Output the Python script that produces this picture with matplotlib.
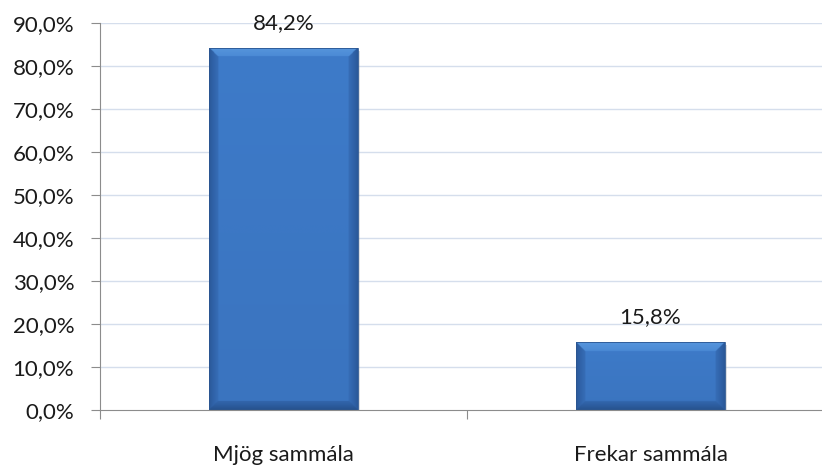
import numpy as np
import matplotlib
matplotlib.use('Agg')
import matplotlib.pyplot as plt
from matplotlib.colors import LinearSegmentedColormap
from matplotlib.patches import Rectangle

# data
categories = ['Mjög sammála', 'Frekar sammála']
values = [84.2, 15.8]
yticks = [0, 10, 20, 30, 40, 50, 60, 70, 80, 90]

plt.rcParams['font.family'] = ['Lato', 'DejaVu Sans']

fig = plt.figure(figsize=(8.22, 4.66), dpi=100)
ax = fig.add_axes([100/822, 1 - 410/466, 722/822, 387/466])

x = np.arange(len(categories))
bar_w = 0.405
xmax = -0.5 + 722/367

# gridlines
for t in yticks[1:]:
    ax.axhline(t, color='#D5DEEC', lw=1.0, zorder=0)

# bar shading: dark on the bevel, lighter in the face
cmap_b = LinearSegmentedColormap.from_list('bevel', ['#21497F', '#2E5FA3', '#3A73BE', '#3F7ECD', '#5C9BE0'])
bars = ax.bar(x, values, width=bar_w, color='none', edgecolor='none', zorder=3)
for rect, v in zip(bars, values):
    x0 = rect.get_x()
    w = rect.get_width()
    # soft shadow
    ax.add_patch(Rectangle((x0 + 0.006, -0.7), w, v, facecolor='#9AA3AF', alpha=0.35,
                           edgecolor='none', zorder=2))
    nx, ny = 300, 400
    hx = np.linspace(0, 1, nx)[None, :]
    vy = np.linspace(0, 1, ny)[:, None]
    dx = np.minimum(hx, 1 - hx) * w * 367        # px from left/right edge
    db = vy * v * 4.3                             # px from bottom
    dt = (1 - vy) * v * 4.3                       # px from top
    bevel = 9.0
    face = 0.52 + 0.16 * vy                        # face gets lighter to the top
    shade = face * np.ones((ny, nx))
    side = (dx < bevel) & (dx <= dt) & (dx <= db)
    shade = np.where(side, 0.18 + 0.25 * dx / bevel, shade)
    bot = (db < bevel) & (db < dx)
    shade = np.where(bot, 0.10 + 0.25 * db / bevel, shade)
    top = (dt < bevel) & (dt < dx)
    shade = np.where(top, 0.95 - 0.1 * dt / bevel, shade)
    im = ax.imshow(shade, cmap=cmap_b, extent=(x0, x0 + w, 0, v), origin='lower',
                   aspect='auto', vmin=0, vmax=1, zorder=3, interpolation='bilinear')
    im.set_clip_path(rect)
    ax.add_patch(Rectangle((x0, 0), w, v, facecolor='none', edgecolor='#2A5590', lw=0.6, zorder=4))
    ax.annotate(f'{v:.1f}%'.replace('.', ','), (x0 + w / 2, v), xytext=(0, 18),
                textcoords='offset points', ha='center', va='center', fontsize=16, color='#1A1A1A')

# axes styling
for s in ['top', 'right']:
    ax.spines[s].set_visible(False)
ax.spines['left'].set_color('#8C8C8C')
ax.spines['bottom'].set_color('#8C8C8C')
ax.spines['left'].set_zorder(5)
ax.spines['bottom'].set_zorder(5)

ax.set_yticks(yticks)
ax.set_yticklabels([f'{t:.1f}%'.replace('.', ',') for t in yticks], fontsize=16, color='#1A1A1A')
ax.tick_params(axis='y', length=6.5, color='#8C8C8C', pad=12)

ax.set_xticks([-0.5, 0.5, 1.5])
ax.set_xticklabels([])
ax.set_xticks(x, minor=True)
ax.set_xticklabels(categories, minor=True, fontsize=16, color='#1A1A1A')
ax.tick_params(axis='x', which='major', length=6.5, color='#8C8C8C', direction='out')
ax.tick_params(axis='x', which='minor', length=0, pad=25)

ax.set_xlim(-0.5, xmax)
ax.set_ylim(0, 90)

fig.savefig('out.png', dpi=100)
